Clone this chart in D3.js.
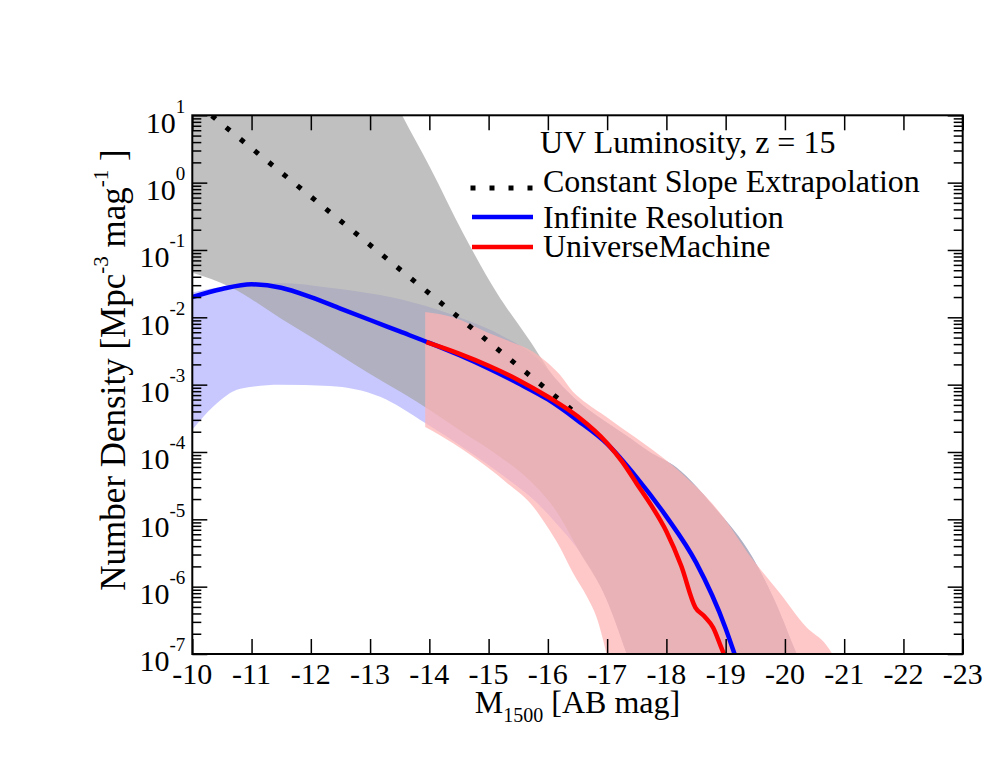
<!DOCTYPE html>
<html>
<head>
<meta charset="utf-8">
<script src="https://cdn.jsdelivr.net/npm/d3@7"></script>
<style>
	body { margin: 0; background: #fff; }
	svg { display: block; font-family: "Liberation Serif", "Times New Roman", serif; }
</style>
</head>
<body>
<div id="chart"></div>
<script>
/* DATA (magnitudes, log10 of number density) */

const magTicks = [-10, -11, -12, -13, -14, -15, -16, -17, -18, -19, -20, -21, -22, -23];
const expTicks = [-7, -6, -5, -4, -3, -2, -1, 0, 1];

// Infinite Resolution
const blueM = [-10, -10.5, -11, -11.5, -12, -12.5, -13, -13.5, -14, -14.5, -15, -15.5, -16, -16.5, -17, -17.5, -18, -18.5, -19, -19.15];
const blueLog = [-1.70, -1.58, -1.51, -1.56, -1.70, -1.87, -2.04, -2.21, -2.38, -2.56, -2.76, -2.98, -3.22, -3.53, -3.88, -4.38, -4.96, -5.64, -6.62, -7.0];

// UniverseMachine
const redM = [-13.95, -14.5, -15, -15.5, -16, -16.5, -17, -17.25, -17.5, -17.75, -18, -18.25, -18.49, -18.64, -18.79, -18.92, -18.97];
const redLog = [-2.37, -2.54, -2.72, -2.93, -3.18, -3.47, -3.87, -4.14, -4.47, -4.80, -5.18, -5.69, -6.31, -6.44, -6.61, -6.89, -7.0];

// Constant Slope Extrapolation (end points)
const slopeM = [-10, -16.4];
const slopeLog = [1.23, -3.37];

// grey band
const grayM = [-10, -10.64, -11.5, -12.04, -13.0, -13.54, -14.01, -14.57, -15.14, -15.69, -16.12, -16.54, -16.99, -17.33, -17.72, -18.17, -18.81, -19.45, -19.82, -20.2, -20.4];
const grayHi = [6, 5.2, 4.0, 3.3, 2.0, 1.0, 0.23, -0.75, -1.64, -2.34, -2.90, -3.27, -3.56, -3.76, -4.00, -4.23, -4.82, -5.56, -6.19, -7.0, -7.4];
const grayLo = [-1.34, -1.55, -2.02, -2.31, -2.84, -3.12, -3.38, -3.71, -4.04, -4.42, -4.85, -5.49, -6.19, -7.0, -8, -8, -8, -8, -8, -8, -8];

// blue band
const bandBlueM = [-10, -10.35, -10.81, -11.48, -12.32, -13.17, -13.93, -14.68, -15.24, -15.81, -16.12, -16.54, -16.99, -17.33, -17.72, -18.17, -18.81, -19.45, -19.82, -20.2, -20.4];
const bandBlueHi = [-1.63, -1.57, -1.52, -1.49, -1.56, -1.67, -1.83, -2.06, -2.28, -2.60, -2.90, -3.27, -3.56, -3.76, -4.00, -4.23, -4.82, -5.56, -6.19, -7.0, -7.4];
const bandBlueLo = [-3.67, -3.33, -3.06, -3.00, -3.02, -3.18, -3.57, -4.00, -4.35, -4.75, -5.04, -5.49, -6.19, -7.0, -8, -8, -8, -8, -8, -8, -8];

// red band
const bandRedM = [-13.93, -14.40, -14.97, -15.31, -15.75, -15.99, -16.20, -16.42, -16.66, -16.82, -16.99, -17.21, -17.77, -18.17, -18.90, -19.45, -19.91, -20.36, -20.70, -20.80, -20.9];
const bandRedHi = [-1.92, -2.00, -2.22, -2.34, -2.51, -2.67, -2.85, -3.10, -3.28, -3.38, -3.48, -3.62, -3.97, -4.25, -4.90, -5.59, -6.09, -6.60, -6.87, -7.0, -7.2];
const bandRedLo = [-3.63, -3.87, -4.22, -4.46, -4.81, -5.11, -5.41, -5.79, -6.15, -6.45, -7.0, -8, -8, -8, -8, -8, -8, -8, -8, -8, -8];

const legendItems = ["Constant Slope Extrapolation", "Infinite Resolution", "UniverseMachine"];

/* SET UP */

const W = 997;
const H = 770;
const m = { top: 115.3, right: 34.3, bottom: 116, left: 192.3 };
const w = W - m.left - m.right;
const h = H - m.top - m.bottom;

const svg = d3.select("#chart").append("svg").attr("width", W).attr("height", H);
const g = svg.append("g").attr("transform", `translate(${m.left},${m.top})`);

const x = d3.scaleLinear().domain([-10, -23]).range([0, w]);
const y = d3.scaleLog().domain([1e-7, 10]).range([h, 0]);

g.append("clipPath").attr("id", "clip")
	.append("rect").attr("width", w).attr("height", h);

const plot = g.append("g").attr("clip-path", "url(#clip)");

/* BANDS */

const area = d3.area()
	.x((d) => x(d[0]))
	.y0((d) => y(10 ** d[2]))
	.y1((d) => y(10 ** d[1]))
	.curve(d3.curveMonotoneX);

plot.append("path")
	.datum(d3.zip(bandBlueM, bandBlueHi, bandBlueLo))
	.attr("d", area)
	.attr("fill", "#c8c8ff");

plot.append("path")
	.datum(d3.zip(grayM, grayHi, grayLo))
	.attr("d", area)
	.attr("fill", "#a6a6a6")
	.attr("fill-opacity", 0.71);

plot.append("path")
	.datum(d3.zip(bandRedM, bandRedHi, bandRedLo))
	.attr("d", area)
	.attr("fill", "#ffb3b3")
	.attr("fill-opacity", 0.72);

/* LINES */

const line = d3.line()
	.x((d) => x(d[0]))
	.y((d) => y(10 ** d[1]))
	.curve(d3.curveMonotoneX);

plot.append("path")
	.datum(d3.zip(slopeM, slopeLog))
	.attr("d", line)
	.attr("fill", "none")
	.attr("stroke", "#000")
	.attr("stroke-width", 5)
	.attr("stroke-dasharray", "5,13.4")
	.attr("stroke-dashoffset", 11.6);

plot.append("path")
	.datum(d3.zip(blueM, blueLog))
	.attr("d", line)
	.attr("fill", "none")
	.attr("stroke", "#0000ff")
	.attr("stroke-width", 4.5);

plot.append("path")
	.datum(d3.zip(redM, redLog))
	.attr("d", line)
	.attr("fill", "none")
	.attr("stroke", "#ff0000")
	.attr("stroke-width", 4.5);

/* AXES */

const majors = expTicks.map((e) => 10 ** e);
const minors = y.ticks().filter((v) => !majors.some((mv) => Math.abs(mv - v) / v < 1e-6));

function tickStyle(sel) {
	sel.select(".domain").remove();
	sel.selectAll("line").attr("stroke", "#000").attr("stroke-width", 1.5);
}

g.append("g").call(d3.axisLeft(y).tickValues(majors).tickSize(-15).tickFormat("")).call(tickStyle);
g.append("g").call(d3.axisLeft(y).tickValues(minors).tickSize(-9).tickFormat("")).call(tickStyle);
g.append("g").attr("transform", `translate(${w},0)`)
	.call(d3.axisRight(y).tickValues(majors).tickSize(-15).tickFormat("")).call(tickStyle);
g.append("g").attr("transform", `translate(${w},0)`)
	.call(d3.axisRight(y).tickValues(minors).tickSize(-9).tickFormat("")).call(tickStyle);
g.append("g").attr("transform", `translate(0,${h})`)
	.call(d3.axisBottom(x).tickValues(magTicks).tickSize(-15).tickFormat("")).call(tickStyle);
g.append("g")
	.call(d3.axisTop(x).tickValues(magTicks).tickSize(-15).tickFormat("")).call(tickStyle);

g.append("rect")
	.attr("width", w).attr("height", h)
	.attr("fill", "none").attr("stroke", "#000").attr("stroke-width", 2);

// tick labels
g.selectAll(".xlab")
	.data(magTicks)
	.join("text")
	.attr("class", "xlab")
	.attr("x", (d) => x(d))
	.attr("y", h + 30)
	.attr("text-anchor", "middle")
	.attr("font-size", 30)
	.text((d) => "-" + Math.abs(d));

const ylab = g.selectAll(".ylab")
	.data(expTicks)
	.join("text")
	.attr("class", "ylab")
	.attr("x", -7)
	.attr("y", (d) => y(10 ** d) + 17.5)
	.attr("text-anchor", "end")
	.attr("font-size", 30);
ylab.append("tspan").text("10");
ylab.append("tspan").attr("dy", -20).attr("font-size", 19).text((d) => (d < 0 ? "-" + Math.abs(d) : d));

// axis titles
const xt = svg.append("text")
	.attr("x", m.left + w / 2)
	.attr("y", 713)
	.attr("text-anchor", "middle")
	.attr("font-size", 32);
xt.append("tspan").text("M");
xt.append("tspan").attr("dy", 9).attr("font-size", 20).text("1500");
xt.append("tspan").attr("dy", -9).text(" [AB mag]");

const yt = svg.append("text")
	.attr("transform", "translate(125,370) rotate(-90)")
	.attr("text-anchor", "middle")
	.attr("font-size", 35);
yt.append("tspan").text("Number Density [Mpc");
yt.append("tspan").attr("dy", -17).attr("font-size", 21).text("-3");
yt.append("tspan").attr("dy", 17).text(" mag");
yt.append("tspan").attr("dy", -17).attr("font-size", 21).text("-1");
yt.append("tspan").attr("dy", 17).text(" ]");

/* LEGEND */

svg.append("text")
	.attr("x", 540).attr("y", 153)
	.attr("font-size", 32)
	.text("UV Luminosity, z = 15");

const legY = [188, 217, 247];
const legBase = [192, 228, 257];

svg.append("line")
	.attr("x1", 470.5).attr("x2", 535).attr("y1", legY[0]).attr("y2", legY[0])
	.attr("stroke", "#000").attr("stroke-width", 5).attr("stroke-dasharray", "5,14");
svg.append("line")
	.attr("x1", 472).attr("x2", 533).attr("y1", legY[1]).attr("y2", legY[1])
	.attr("stroke", "#0000ff").attr("stroke-width", 4.5);
svg.append("line")
	.attr("x1", 472).attr("x2", 533).attr("y1", legY[2]).attr("y2", legY[2])
	.attr("stroke", "#ff0000").attr("stroke-width", 4.5);

svg.selectAll(".legtext")
	.data(legendItems)
	.join("text")
	.attr("class", "legtext")
	.attr("x", 543)
	.attr("y", (d, i) => legBase[i])
	.attr("font-size", 32)
	.text((d) => d);
</script>
</body>
</html>
